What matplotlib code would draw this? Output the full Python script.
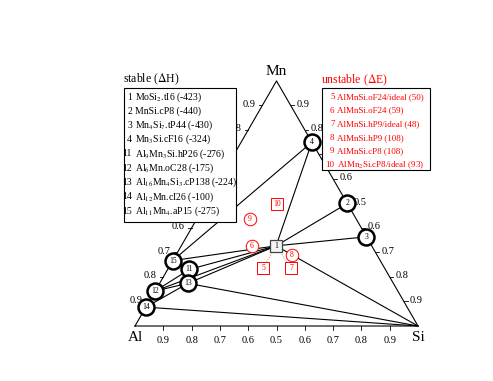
import numpy as np
import matplotlib.pyplot as plt
from matplotlib.patches import Rectangle
from matplotlib.transforms import Affine2D

plt.rcParams['font.family'] = ['Liberation Serif', 'DejaVu Serif']
plt.rcParams['mathtext.fontset'] = 'stix'

# stable phases: (Mn, Si) fractions, Al is the rest
stable_ids = [1, 2, 3, 4, 11, 12, 13, 14, 15]
stable_mn = [0.327, 0.5, 0.364, 0.75, 0.231, 0.143, 0.174, 0.077, 0.267]
stable_si = [0.335, 0.5, 0.636, 0.25, 0.077, 0.0, 0.10, 0.0, 0.0]
stable_names = [r'MoSi$_2$.tI6', 'MnSi.cP8', r'Mn$_4$Si$_7$.tP44', r'Mn$_3$Si.cF16',
                r'Al$_9$Mn$_3$Si.hP26', r'Al$_6$Mn.oC28', r'Al$_{16}$Mn$_4$Si$_3$.cP138',
                r'Al$_{12}$Mn.cI26', r'Al$_{11}$Mn$_4$.aP15']
stable_dh = [-423, -440, -430, -324, -276, -175, -224, -100, -275]

# unstable phases (drawn offset around point 1)
unstable_ids = [5, 6, 7, 8, 9, 10]
unstable_mn = [0.237, 0.326, 0.237, 0.29, 0.437, 0.498]
unstable_si = [0.334, 0.25, 0.433, 0.41, 0.188, 0.253]
unstable_names = ['AlMnSi.oF24/ideal', 'AlMnSi.oF24', 'AlMnSi.hP9/ideal', 'AlMnSi.hP9',
                  'AlMnSi.cP8', r'AlMn$_2$Si.cP8/ideal']
unstable_de = [50, 59, 48, 108, 108, 93]
unstable_marker = ['s', 'o', 's', 'o', 'o', 's']

# tie lines between phases / corners
tie_lines = [(4, 15), (4, 1), (1, 2), (1, 3), (1, 'Si'), (1, 15), (1, 11), (1, 12), (1, 13),
             (12, 11), (12, 13), (14, 13), (13, 'Si'), (14, 'Si')]

corner_mn = {'Al': 0.0, 'Mn': 1.0, 'Si': 0.0}
corner_si = {'Al': 0.0, 'Mn': 0.0, 'Si': 1.0}

tick_fracs = [0.1, 0.2, 0.3, 0.4, 0.5, 0.6, 0.7, 0.8, 0.9]
# labels that sit fully under the legend boxes
hidden_left = [0.5, 0.6, 0.7]
hidden_right = [0.3]


def tern(mn, si):
    mn = np.asarray(mn, dtype=float)
    si = np.asarray(si, dtype=float)
    return si + mn / 2, mn * np.sqrt(3) / 2


def comp(key):
    if key in corner_mn:
        return corner_mn[key], corner_si[key]
    i = stable_ids.index(key)
    return stable_mn[i], stable_si[i]


fig = plt.figure(figsize=(4.93, 3.81), dpi=100)
ax = fig.add_axes([0, 0, 1, 1])
ax.set_xlim(-135 / 283, 358 / 283)
ax.set_ylim(-55 / 283, 326 / 283)
ax.axis('off')

# pixel-style transform for the legend boxes
pix = Affine2D().scale(1 / 493, -1 / 381).translate(0, 1) + fig.transFigure

# triangle
tx, ty = tern([0, 1, 0, 0], [0, 0, 1, 0])
ax.plot(tx, ty, color='black', lw=0.8, zorder=1)

# ticks and labels
tl = 0.013
for f in tick_fracs:
    lab = f'{max(f, 1 - f):.1f}'
    # bottom (Al-Si)
    x, y = tern(0, f)
    ax.plot([x, x], [y, y - tl], color='black', lw=0.6)
    ax.text(x, y - 0.05, lab, ha='center', va='center', fontsize=7.5)
    # left (Al-Mn)
    x, y = tern(f, 0)
    ax.plot([x, x - tl], [y, y], color='black', lw=0.6)
    if f not in hidden_left:
        ax.text(x - 0.024, y + 0.005, lab, ha='right', va='center', fontsize=7.5)
    # right (Mn-Si)
    x, y = tern(1 - f, f)
    ax.plot([x, x + tl], [y, y], color='black', lw=0.6)
    if f not in hidden_right:
        ax.text(x + 0.022, y + 0.005, lab, ha='left', va='center', fontsize=7.5)

x, y = tern(0, 0)
ax.text(x, y - 0.04, 'Al', ha='center', va='center', fontsize=11)
x, y = tern(0, 1)
ax.text(x, y - 0.04, 'Si', ha='center', va='center', fontsize=11)
x, y = tern(1, 0)
ax.text(x, y + 0.034, 'Mn', ha='center', va='center', fontsize=11)

# tie lines
for a, b in tie_lines:
    x1, y1 = tern(*comp(a))
    x2, y2 = tern(*comp(b))
    ax.plot([x1, x2], [y1, y2], color='black', lw=0.8, zorder=1)

# dotted links from point 1 to the square unstable phases
p1x, p1y = tern(*comp(1))
for k in [5, 7]:
    i = unstable_ids.index(k)
    ux, uy = tern(unstable_mn[i], unstable_si[i])
    ax.plot([p1x, ux], [p1y, uy], color='#ff6666', lw=0.7, ls=':', zorder=2)

# stable points
for i, n in enumerate(stable_ids):
    x, y = tern(stable_mn[i], stable_si[i])
    if n == 1:
        ax.plot(x, y, marker='s', ms=9, mfc='#f4f4f4', mec='#444444', mew=0.9, zorder=4)
    else:
        ax.plot(x, y, marker='o', ms=11.5, mfc='white', mec='black', mew=1.8, zorder=4)
    ax.text(x, y, str(n), ha='center', va='center', fontsize=5.5, zorder=6)

# unstable points
for i, n in enumerate(unstable_ids):
    x, y = tern(unstable_mn[i], unstable_si[i])
    ms = 8 if unstable_marker[i] == 's' else 9
    ax.plot(x, y, marker=unstable_marker[i], ms=ms, mfc='white', mec='red', mew=0.7, zorder=4)
    ax.text(x, y, str(n), ha='center', va='center', fontsize=5.5, color='red', zorder=6)

# stable legend box
fig.text(123, 79, r'stable ($\Delta$H)', transform=pix, ha='left', va='center', fontsize=8.5)
fig.patches.append(Rectangle((124, 88), 112, 134, transform=pix, fc='white', ec='black',
                             lw=0.8, zorder=5))
for i, n in enumerate(stable_ids):
    yy = 97 + 14.25 * i
    fig.text(132, yy, str(n), transform=pix, ha='right', va='center', fontsize=7, zorder=6)
    fig.text(135, yy, f'{stable_names[i]} ({stable_dh[i]})', transform=pix,
             ha='left', va='center', fontsize=7, zorder=6)

# unstable legend box
fig.text(321, 80, r'unstable ($\Delta$E)', transform=pix, ha='left', va='center',
         fontsize=8.5, color='red')
fig.patches.append(Rectangle((322, 88), 108, 82, transform=pix, fc='white', ec='black',
                             lw=0.8, zorder=5))
for i, n in enumerate(unstable_ids):
    yy = 97 + 13.6 * i
    fig.text(334.5, yy, str(n), transform=pix, ha='right', va='center', fontsize=6.5,
             color='red', zorder=6)
    fig.text(337, yy, f'{unstable_names[i]} ({unstable_de[i]})', transform=pix,
             ha='left', va='center', fontsize=6.5, color='red', zorder=6)

fig.savefig('out.png', dpi=100)
